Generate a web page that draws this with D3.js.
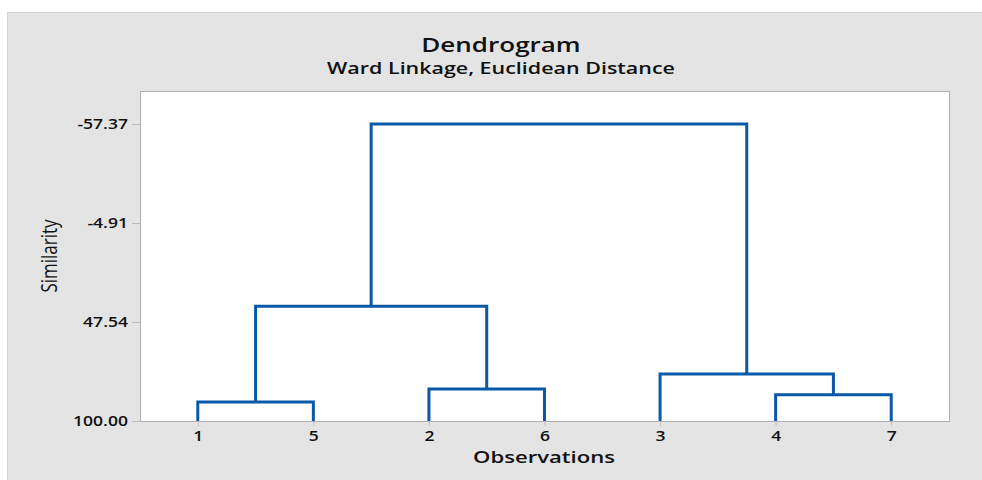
<!DOCTYPE html>
<html>
<head>
<meta charset="utf-8">
<script src="https://cdn.jsdelivr.net/npm/d3@7"></script>
<style>
  html, body { margin: 0; padding: 0; background: #ffffff; }
  svg { display: block; }
  text { font-family: "Open Sans", "Noto Sans", sans-serif; fill: #111; }
</style>
</head>
<body>
<svg id="chart" width="982" height="480"></svg>
<script>
// ---- Data ----
const observations = ["1", "5", "2", "6", "3", "4", "7"];
const yTickValues = [-57.37, -4.91, 47.54, 100.00];
const linkName = ["A", "B", "C", "D", "E", "F"];
const linkLeft = ["1", "2", "4", "3", "A", "E"];
const linkRight = ["5", "6", "7", "C", "B", "D"];
const linkSimilarity = [89.9, 83.0, 86.1, 75.1, 39.2, -57.37];

const titleText = "Dendrogram";
const subtitleText = "Ward Linkage, Euclidean Distance";
const xLabel = "Observations";
const yLabel = "Similarity";

// ---- Layout ----
const W = 982, H = 480;
const plot = { left: 140, top: 91, right: 949, bottom: 421 };
const SX = 1.3; // horizontal glyph stretch seen in the reference

const svg = d3.select("#chart");

function stretch(sel, f) {
  sel.each(function () {
    const len = this.getComputedTextLength();
    this.setAttribute("textLength", len * f);
    this.setAttribute("lengthAdjust", "spacingAndGlyphs");
  });
}

// outer panel
svg.append("rect").attr("x", 7.5).attr("y", 12.5).attr("width", W).attr("height", H)
  .attr("fill", "#e4e4e4").attr("stroke", "#d2d2d2").attr("stroke-width", 1);

// plot background with slight shadow at right/bottom
svg.append("rect")
  .attr("x", plot.left + 1).attr("y", plot.top + 1)
  .attr("width", plot.right - plot.left).attr("height", plot.bottom - plot.top)
  .attr("fill", "#c8c8c8");
svg.append("rect")
  .attr("x", plot.left).attr("y", plot.top)
  .attr("width", plot.right - plot.left).attr("height", plot.bottom - plot.top)
  .attr("fill", "#ffffff").attr("stroke", "#b0b0b0").attr("stroke-width", 1)
  .attr("shape-rendering", "crispEdges");

// scales
const x = d3.scalePoint().domain(observations).range([plot.left, plot.right]).padding(0.5);
const y = d3.scaleLinear().domain([-57.37, 100]).range([124, plot.bottom]);

// axes
const yAxis = d3.axisLeft(y).tickValues(yTickValues).tickFormat(d => d.toFixed(2)).tickSize(8).tickPadding(4);
const gy = svg.append("g").attr("transform", `translate(${plot.left},0)`).call(yAxis);
gy.select(".domain").remove();
gy.selectAll(".tick line").attr("stroke", "#bdbdbd");
gy.selectAll(".tick text").attr("font-size", 13.5).attr("font-weight", 600)
  .attr("font-family", "'Open Sans', sans-serif").attr("fill", "#111");
stretch(gy.selectAll(".tick text"), SX);

const xAxis = d3.axisBottom(x).tickSize(5).tickPadding(5);
const gx = svg.append("g").attr("transform", `translate(0,${plot.bottom})`).call(xAxis);
gx.select(".domain").remove();
gx.selectAll(".tick line").attr("stroke", "#bdbdbd");
gx.selectAll(".tick text").attr("font-size", 13.5).attr("font-weight", 600)
  .attr("font-family", "'Open Sans', sans-serif").attr("fill", "#111");
stretch(gx.selectAll(".tick text"), SX);

// dendrogram links
const nodes = {};
observations.forEach(o => { nodes[o] = { x: x(o), h: 100 }; });
const links = linkName.map((n, i) => {
  const a = nodes[linkLeft[i]], b = nodes[linkRight[i]];
  const h = linkSimilarity[i];
  nodes[n] = { x: (a.x + b.x) / 2, h: h };
  return { a, b, h };
});
svg.append("g").selectAll("path").data(links).join("path")
  .attr("d", d => `M${d.a.x},${y(d.a.h)}V${y(d.h)}H${d.b.x}V${y(d.b.h)}`)
  .attr("fill", "none").attr("stroke", "#0a58a8").attr("stroke-width", 3)
  .attr("stroke-linejoin", "miter");

// titles
const cx = 501;
const t1 = svg.append("text").attr("x", cx).attr("y", 52).attr("text-anchor", "middle")
  .attr("font-size", 20).attr("font-weight", 600).text(titleText);
const t2 = svg.append("text").attr("x", cx).attr("y", 74).attr("text-anchor", "middle")
  .attr("font-size", 16.5).attr("font-weight", 600).text(subtitleText);
stretch(t1, SX); stretch(t2, SX);

const xl = svg.append("text").attr("x", 544).attr("y", 463).attr("text-anchor", "middle")
  .attr("font-size", 17).attr("font-weight", 600).text(xLabel);
stretch(xl, SX);
svg.append("text").attr("transform", `translate(57,256) scale(${SX},1) rotate(-90)`).attr("text-anchor", "middle")
  .attr("font-size", 17).attr("font-weight", 400).text(yLabel);
</script>
</body>
</html>
